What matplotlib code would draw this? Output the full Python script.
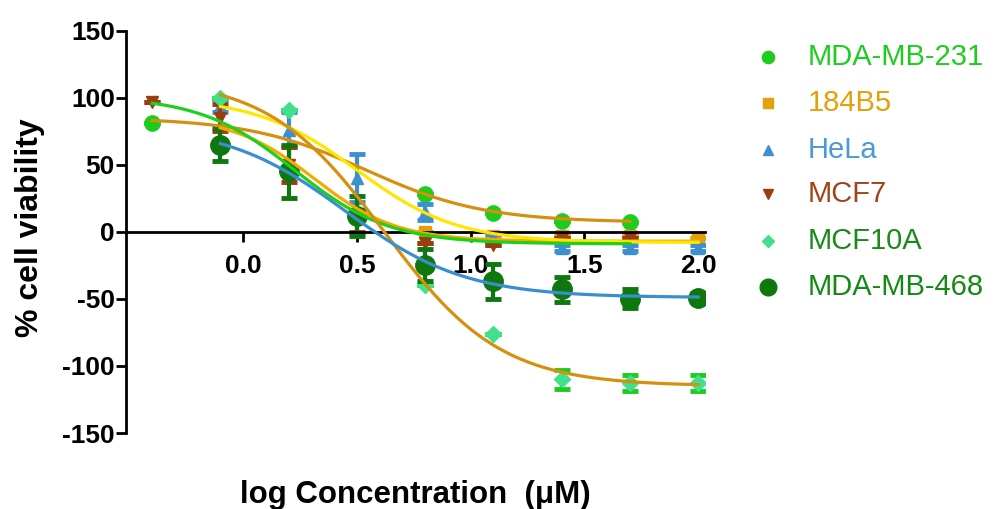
import numpy as np
import matplotlib
matplotlib.use('Agg')
import matplotlib.pyplot as plt

plt.rcParams['font.family'] = ['Liberation Sans', 'DejaVu Sans']
plt.rcParams['axes.unicode_minus'] = False

# log concentration (uM) of the dilution series
log_conc = [-0.40, -0.10, 0.20, 0.50, 0.80, 1.10, 1.40, 1.70, 2.00]

names = ['MDA-MB-231', '184B5', 'HeLa', 'MCF7', 'MCF10A', 'MDA-MB-468']

nan = np.nan
# mean % viability per cell line (nan = point not visible)
mda231_mean = [81, nan, nan, nan, 28, 14, 8, 7, nan]
b5_mean = [nan, nan, nan, nan, 0, -3, -3, -3, -5]
hela_mean = [nan, 94, 76, 40, 15, -5, -12, -12, -12]
mcf7_mean = [97, 85, 50, 8, -8, -10, -5, -5, nan]
mcf10a_mean = [nan, 100, 91, nan, -40, -76, -110, -113, -113]
mda468_mean = [nan, 65, 45, 12, -25, -37, -43, -50, -49]

mda231_err = [0, 0, 0, 0, 0, 0, 0, 0, 0]
b5_err = [0, 0, 0, 0, 0, 0, 0, 0, 0]
hela_err = [0, 5, 13, 18, 6, 3, 2, 2, 2]
mcf7_err = [0, 10, 13, 8, 0, 0, 0, 0, 0]
mcf10a_err = [0, 0, 0, 0, 0, 0, 7, 6, 6]
mda468_err = [0, 12, 20, 15, 12, 13, 9, 7, 3]

# sigmoidal fit parameters: top, bottom, logIC50, hill slope, x range
fit_top = [85, 86, 100, 101, 115, 80]
fit_bottom = [7, -7, -8, -9, -115, -49]
fit_logic50 = [0.54, 0.313, 0.50, 0.226, 0.62, 0.449]
fit_hill = [1.67, 2.41, 1.97, 2.09, 1.70, 1.65]
fit_xmin = [-0.40, -0.10, -0.10, -0.40, -0.10, -0.10]
fit_xmax = [1.70, 2.00, 2.00, 1.70, 2.00, 2.00]

means = [mda231_mean, b5_mean, hela_mean, mcf7_mean, mcf10a_mean, mda468_mean]
errs = [mda231_err, b5_err, hela_err, mcf7_err, mcf10a_err, mda468_err]

marker_colors = ['#1ecc1e', '#e3a008', '#3d90d0', '#9a3e12', '#40e08c', '#0e780e']
errbar_colors = ['#1ecc1e', '#e3a008', '#3d90d0', '#9a3e12', '#1ecc1e', '#0e780e']
curve_colors = ['#d4900e', '#f5aa00', '#ffe600', '#1ed01e', '#d4900e', '#3a8ed0']
text_colors = ['#1ecc1e', '#e3a008', '#4a9ad8', '#a0441a', '#1a8a1a', '#138a13']
markers = ['o', 's', '^', 'v', 'D', 'o']
msizes = [11, 9, 9, 9, 8, 14]

fig = plt.figure(figsize=(10, 5.09), dpi=100)
ax = fig.add_axes([0.126, 0.1493, 0.579, 0.7907])

for i in range(6):
    m = np.array(means[i], dtype=float)
    e = np.array(errs[i], dtype=float)
    ax.errorbar(log_conc, m, yerr=e, fmt='none', ecolor=errbar_colors[i],
                elinewidth=3, capsize=6, capthick=3.5, zorder=2 + i * 0.1)
    ax.plot(log_conc, m, linestyle='none', marker=markers[i], ms=msizes[i],
            color=marker_colors[i], mec=marker_colors[i], zorder=2.05 + i * 0.1)

for i in range(6):
    xs = np.linspace(fit_xmin[i], fit_xmax[i], 200)
    ys = fit_bottom[i] + (fit_top[i] - fit_bottom[i]) / (1 + 10 ** ((xs - fit_logic50[i]) * fit_hill[i]))
    ax.plot(xs, ys, color=curve_colors[i], lw=2.3, zorder=4)

ax.set_xlim(-0.515, 2.03)
ax.set_ylim(-150, 150)
ax.spines['top'].set_visible(False)
ax.spines['right'].set_visible(False)
ax.spines['bottom'].set_position(('data', 0))
ax.spines['left'].set_linewidth(2)
ax.spines['bottom'].set_linewidth(2)
ax.spines['bottom'].set_zorder(3)

ax.set_xticks([0.0, 0.5, 1.0, 1.5, 2.0])
ax.set_xticklabels(['0.0', '0.5', '1.0', '1.5', '2.0'])
ax.set_yticks([-150, -100, -50, 0, 50, 100, 150])
ax.tick_params(axis='both', direction='out', length=7, width=2, labelsize=19)
ax.tick_params(axis='y', pad=1)
ax.tick_params(axis='x', pad=9)
for lab in ax.get_xticklabels() + ax.get_yticklabels():
    lab.set_fontweight('bold')

ax.set_ylabel('% cell viability', fontsize=23, fontweight='bold')
ax.yaxis.set_label_coords(-0.14, 0.511)
fig.text(0.415, 0.027, 'log Concentration  (\u03bcM)', fontsize=22.5, fontweight='bold',
         ha='center', va='center')

# legend drawn by hand to match spacing
leg_y = [0.888, 0.797, 0.705, 0.618, 0.527, 0.436]
for i in range(6):
    fig.lines.append(plt.Line2D([0.768], [leg_y[i]], transform=fig.transFigure,
                                marker=markers[i], ms=msizes[i] * 0.8 if i != 5 else 12,
                                color=marker_colors[i], linestyle='none'))
    fig.text(0.808, leg_y[i], names[i], color=text_colors[i], fontsize=21,
             ha='left', va='center')

fig.savefig('out.png', dpi=100)
